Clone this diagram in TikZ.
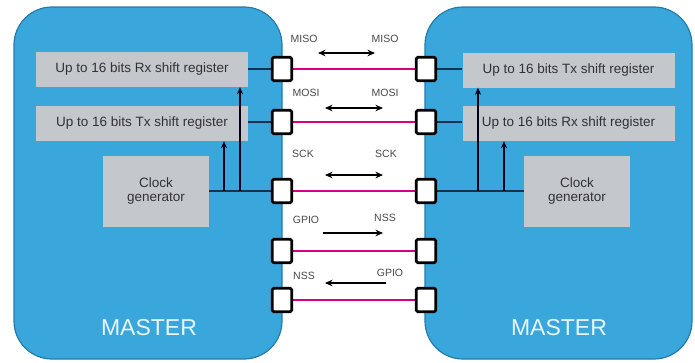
\documentclass[tikz,border=0pt]{standalone}
\usepackage{fontspec}
\setmainfont{Liberation Sans}
\usetikzlibrary{arrows.meta,calc}
\definecolor{panelblue}{RGB}{58,167,220}
\definecolor{paneledge}{RGB}{35,122,172}
\definecolor{regfill}{RGB}{196,199,204}
\definecolor{wire}{RGB}{214,0,128}
\definecolor{trace}{RGB}{18,50,78}
\definecolor{txtgray}{RGB}{50,50,50}
\definecolor{lblgray}{RGB}{72,72,72}
\definecolor{mastertxt}{RGB}{232,246,253}

\begin{document}
\begin{tikzpicture}[x=1pt,y=-1pt,
  panel/.style={draw=paneledge, line width=1.2pt, fill=panelblue,
    rounded corners=38pt, inner sep=0pt},
  regbox/.style={fill=regfill, inner sep=0pt, text=txtgray,
    font=\fontsize{13.5}{15}\selectfont},
  clockbox/.style={regbox, align=center, minimum width=106pt, minimum height=71pt},
  shiftbox/.style={regbox, minimum width=212pt, minimum height=35pt},
  port/.style={draw=black, fill=white, line width=2.8pt, rounded corners=1.5pt,
    minimum width=19.5pt, minimum height=23.5pt, inner sep=0pt},
  sig/.style={text=lblgray, font=\fontsize{10.5}{12}\selectfont, inner sep=0pt},
  master/.style={text=mastertxt, font=\fontsize{23}{26}\selectfont, inner sep=0pt},
  buswire/.style={draw=wire, line width=2.6pt},
  tracewire/.style={draw=trace, line width=1.4pt},
  feed/.style={draw=black!90!blue, line width=1.5pt, -{Stealth[length=7pt,width=6pt]}},
  dirarrow/.style={draw=black, line width=1.7pt, -{Stealth[length=7.5pt,width=6.5pt]}},
  bidir/.style={draw=black, line width=1.7pt, {Stealth[length=7.5pt,width=6.5pt]}-{Stealth[length=7.5pt,width=6.5pt]}}
]
\useasboundingbox (0,0) rectangle (695,362);

% the two devices
\node[panel, minimum width=268pt, minimum height=352pt] (lpanel) at (148,183) {};
\node[panel, minimum width=267pt, minimum height=352pt] (rpanel) at (558.5,183) {};

% registers and clocks of the left device
\node[shiftbox] (lrx) at (142,69.5) {Up to 16 bits Rx shift register};
\node[shiftbox] (ltx) at (142,123.5) {Up to 16 bits Tx shift register};
\node[clockbox] (lclk) at (156,191.5) {Clock\\[-1pt]generator};

% registers and clocks of the right device
\node[shiftbox] (rtx) at (568.5,70) {Up to 16 bits Tx shift register};
\node[shiftbox] (rrx) at (568.5,123.5) {Up to 16 bits Rx shift register};
\node[clockbox] (rclk) at (577,191.5) {Clock\\[-1pt]generator};

% pin positions
\coordinate (lmisoP) at (282,69);
\coordinate (lmosiP) at (282,122);
\coordinate (lsckP)  at (282,191);
\coordinate (lgpioP) at (282,251);
\coordinate (lnssP)  at (282,300);
\coordinate (rmisoP) at (426,69);
\coordinate (rmosiP) at (426,122);
\coordinate (rsckP)  at (426,191);
\coordinate (rnssP)  at (426,251);
\coordinate (rgpioP) at (426,300);

% bus lines between the pins
\draw[buswire] (lmisoP) -- (rmisoP);
\draw[buswire] (lmosiP) -- (rmosiP);
\draw[buswire] (lsckP) -- (rsckP);
\draw[buswire] (lgpioP) -- (rnssP);
\draw[buswire] (lnssP) -- (rgpioP);

% internal traces
\draw[tracewire] (lrx.east |- lmisoP) -- (lmisoP);
\draw[tracewire] (ltx.east |- lmosiP) -- (lmosiP);
\draw[tracewire] (lclk.east |- lsckP) -- (lsckP);
\draw[tracewire] (rtx.west |- rmisoP) -- (rmisoP);
\draw[tracewire] (rrx.west |- rmosiP) -- (rmosiP);
\draw[tracewire] (rclk.west |- rsckP) -- (rsckP);

% clock feeds to the shift registers
\coordinate (lfa) at (224,191);
\coordinate (lfb) at (240,191);
\coordinate (rfa) at (478,191);
\coordinate (rfb) at (504,191);
\draw[feed] (lfa) -- (lfa |- ltx.south);
\draw[feed] (lfb) -- (lfb |- lrx.south);
\draw[feed] (rfa) -- (rfa |- rtx.south);
\draw[feed] (rfb) -- (rfb |- rrx.south);

% pins
\node[port] (lmiso) at (lmisoP) {};
\node[port] (lmosi) at (lmosiP) {};
\node[port] (lsck)  at (lsckP) {};
\node[port] (lgpio) at (lgpioP) {};
\node[port] (lnss)  at (lnssP) {};
\node[port] (rmiso) at (rmisoP) {};
\node[port] (rmosi) at (rmosiP) {};
\node[port] (rsck)  at (rsckP) {};
\node[port] (rnss)  at (rnssP) {};
\node[port] (rgpio) at (rgpioP) {};

% signal names
\node[sig] (tmisoL) at (304,39) {MISO};
\node[sig] (tmisoR) at (385,39) {MISO};
\node[sig] (tmosiL) at (306,93) {MOSI};
\node[sig] (tmosiR) at (385,93) {MOSI};
\node[sig] (tsckL)  at (303,154) {SCK};
\node[sig] (tsckR)  at (386,154) {SCK};
\node[sig] (tgpioL) at (306,220) {GPIO};
\node[sig] (tnssR)  at (385,218) {NSS};
\node[sig] (tnssL)  at (304,276) {NSS};
\node[sig] (tgpioR) at (390,273) {GPIO};

% data directions
\coordinate (a1) at (318,53);  \coordinate (b1) at (375,53);
\coordinate (a2) at (325,108); \coordinate (b2) at (383,108);
\coordinate (a3) at (325,175); \coordinate (b3) at (383,175);
\coordinate (a4) at (323,233); \coordinate (b4) at (383,233);
\coordinate (a5) at (386,283); \coordinate (b5) at (325,283);
\draw[bidir] (a1) -- (b1);
\draw[bidir] (a2) -- (b2);
\draw[bidir] (a3) -- (b3);
\draw[dirarrow] (a4) -- (b4);
\draw[dirarrow] (a5) -- (b5);

% device names
\node[master] (lname) at (149,328) {MASTER};
\node[master] (rname) at (559,328) {MASTER};
\end{tikzpicture}
\end{document}
